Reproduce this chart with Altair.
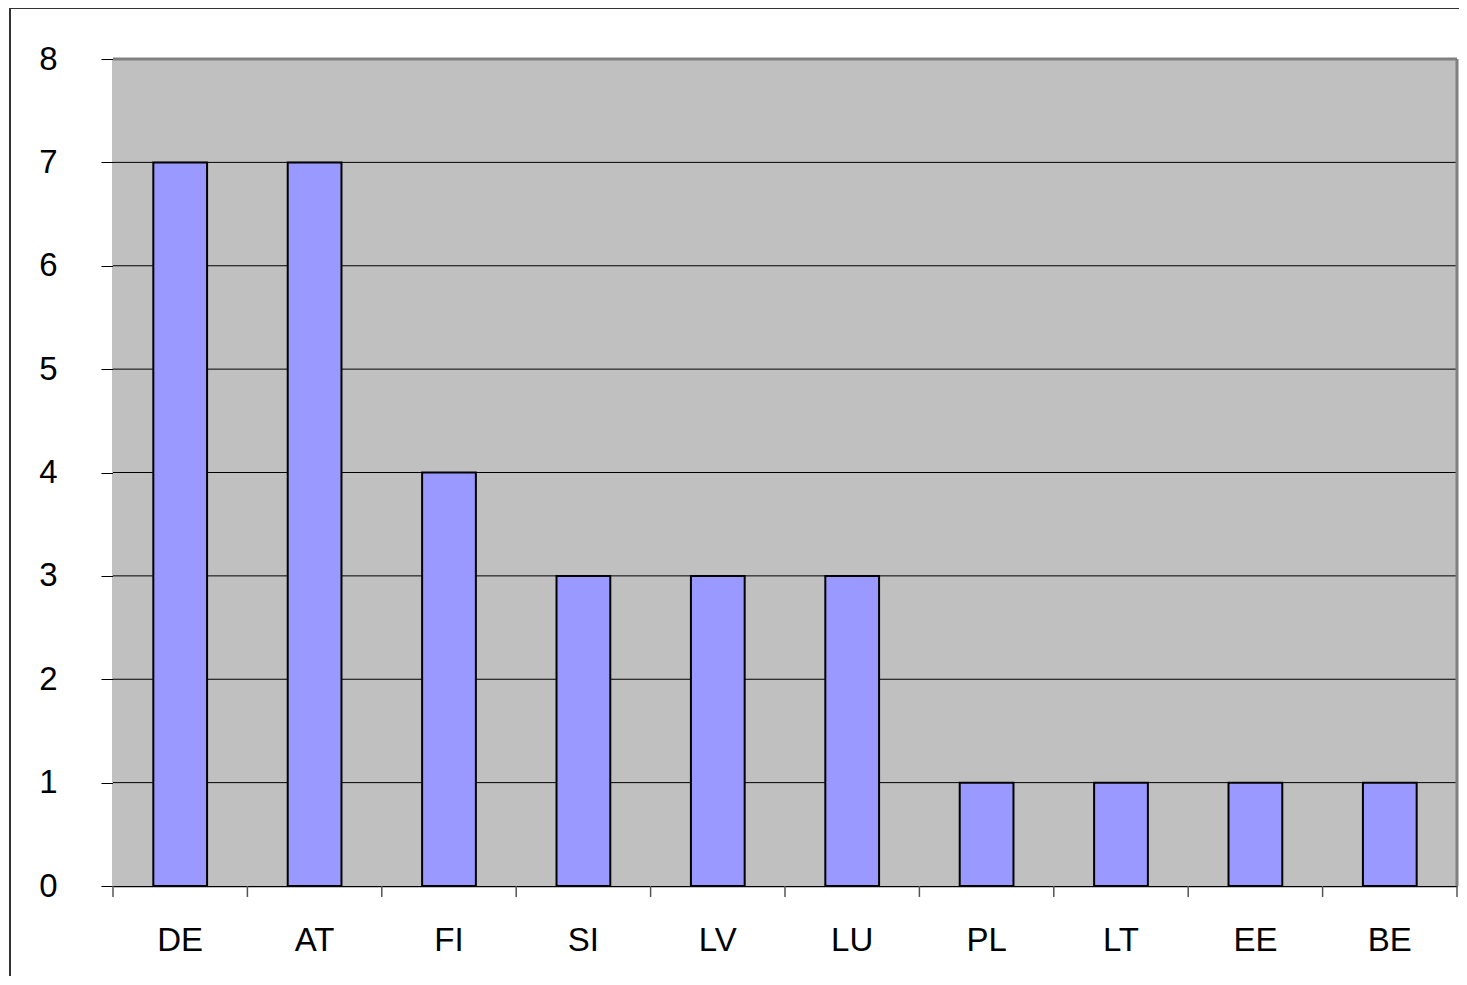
import altair as alt
import pandas as pd

categories = ["DE", "AT", "FI", "SI", "LV", "LU", "PL", "LT", "EE", "BE"]
values = [7, 7, 4, 3, 3, 3, 1, 1, 1, 1]

df = pd.DataFrame({"cat": categories, "val": values})

W, H = 1344, 827
FONT = "Liberation Sans"

xscale = alt.Scale(domain=categories, paddingInner=0, paddingOuter=0)
yscale = alt.Scale(domain=[0, 8], nice=False)

plot_bg = alt.Chart(df.head(1)).mark_rect(fill="#C0C0C0").encode(
    x=alt.value(0), x2=alt.value(W), y=alt.value(0), y2=alt.value(H),
)

bars = alt.Chart(df).mark_bar(
    width=alt.RelativeBandSize(0.4), color="#9999FF", stroke="black", strokeWidth=2
).encode(
    x=alt.X("cat:N", scale=xscale, sort=categories, title=None,
            axis=alt.Axis(labelAngle=0, labelFontSize=33, labelFont=FONT, labelColor="black",
                          ticks=False, domainColor="black", domainWidth=1.5,
                          labelPadding=38, grid=False)),
    y=alt.Y("val:Q", scale=yscale, title=None,
            axis=alt.Axis(values=list(range(0, 9)), format="d", labelFontSize=33, labelFont=FONT,
                          labelColor="black", tickSize=12, tickColor="black", tickWidth=1,
                          domainColor="black", domainWidth=1.5, labelPadding=44,
                          grid=False)),
)

grid = alt.Chart(pd.DataFrame({"g": list(range(1, 8))})).mark_rule(color="black", strokeWidth=1).encode(
    y=alt.Y("g:Q", scale=yscale), x=alt.value(0), x2=alt.value(W),
)

xticks = alt.Chart(df).mark_rule(color="#555555", strokeWidth=1.5).encode(
    x=alt.X("cat:N", scale=xscale, sort=categories, bandPosition=0),
    y=alt.value(H), y2=alt.value(H + 11),
)
last_tick = alt.Chart(df.head(1)).mark_rule(color="#555555", strokeWidth=1.5).encode(
    x=alt.value(W), y=alt.value(H), y2=alt.value(H + 11),
)
top_border = alt.Chart(df.head(1)).mark_rule(color="#808080", strokeWidth=3).encode(
    x=alt.value(0), x2=alt.value(W), y=alt.value(0),
)
right_border = alt.Chart(df.head(1)).mark_rule(color="#808080", strokeWidth=3).encode(
    x=alt.value(W), y=alt.value(0), y2=alt.value(H),
)
frame = alt.Chart(df.head(1)).mark_rect(fill=None, stroke="#333333", strokeWidth=2).encode(
    x=alt.value(-103), x2=alt.value(W + 40), y=alt.value(-51), y2=alt.value(H + 140),
)

chart = alt.layer(frame, plot_bg, grid, bars, xticks, last_tick, top_border, right_border).properties(
    width=W, height=H,
    autosize=alt.AutoSizeParams(type="none"),
    padding={"left": 105, "top": 51, "right": 2, "bottom": 90},
).configure(background="white").configure_view(stroke=None)

chart.save("out.html", embed_options={"renderer": "svg", "actions": False})
